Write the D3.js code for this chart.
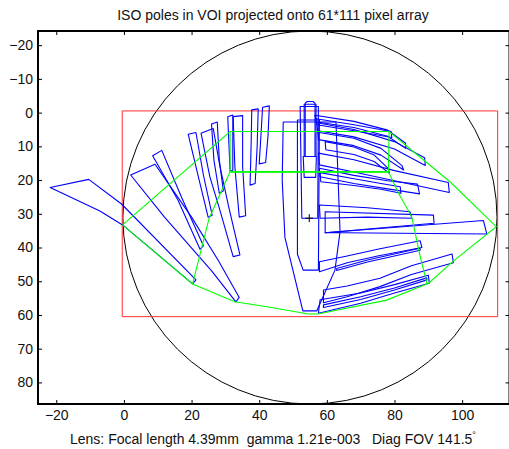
<!DOCTYPE html>
<html>
<head>
<meta charset="utf-8">
<script src="https://cdnjs.cloudflare.com/ajax/libs/d3/7.8.5/d3.min.js"></script>
<style>
  body { margin: 0; background: #fff; }
  svg { display: block; font-family: "Liberation Sans", Arial, Helvetica, sans-serif; }
  .axis text { font-size: 14px; fill: #111; }
  .axis line { stroke: #000; stroke-width: 1; }
  .axis .domain { display: none; }
</style>
</head>
<body>
<div id="vis"></div>
<script>
// tick values
const xTicks = [-20, 0, 20, 40, 60, 80, 100];
const yTicks = [-20, -10, 0, 10, 20, 30, 40, 50, 60, 70, 80];

// pixel array frame (61*111) and lens image circle
const arrayFrame = [[-0.5, -0.5], [110.5, -0.5], [110.5, 60.5], [-0.5, 60.5]];
const circleCenter = [55, 31.1];
const circleRadius = 55.3;
const opticalCenter = [54.8, 31.3];

// green grid of the VOI
const gridOuter = [[-0.4, 33.3], [31.4, 5.6], [78.4, 5.6], [96.4, 20.5], [110.1, 33.8], [97.2, 44.2],
  [90.1, 50.6], [77.7, 55.6], [57.3, 59.7], [54.5, 59.7], [43.2, 57.7], [32.8, 56.1], [20.3, 50.8], [-0.4, 33.3]];
const gridInnerLeft = [[31.4, 5.6], [31.4, 17.5], [25.2, 31.3], [20.3, 50.8]];
const gridMid = [[31.4, 17.5], [78.2, 17.5]];
const gridMid2 = [[31.6, 17.7], [78.2, 17.7]];
const gridInnerRight = [[78.4, 5.6], [78.2, 17.5], [81.2, 23.9], [85.1, 30.9], [87.6, 42.7], [89.6, 50.6]];

// projected poles (blue outlines)
const polesLeft = [
  [[-21.8, 22.2], [-10.4, 19.8], [-0.7, 27.1], [21.3, 49.6], [20.3, 50.8], [-0.4, 33.3], [-7.1, 29.2]],
  [[2.0, 18.5], [9.2, 15.3], [20, 31], [28, 44], [34.1, 54.8], [33.1, 56.1], [26, 47], [12, 31]],
  [[8.5, 12.8], [11.2, 11.2], [17, 25], [23.5, 39.5], [22.5, 40.5], [16, 26]],
  [[19.0, 6.4], [21.3, 5.9], [23.5, 18.5], [26.1, 30.4], [24.9, 31.0], [22, 19]],
  [[22.8, 6.1], [26.4, 4.7], [28.4, 16], [31, 28], [34.3, 42.2], [32.3, 42.7], [28.4, 29], [25.4, 19]],
  [[25.9, 3.4], [27.6, 2.8], [28.2, 14], [29.4, 23.2], [28.2, 23.9], [26.6, 14]],
  [[30.7, 1.2], [32.2, 0.7], [32.2, 17.0], [31.4, 17.5]],
  [[32.3, 1.2], [35.1, 0.9], [35.1, 16.0], [36.0, 30.6], [34.1, 31.0], [32.8, 16.0]],
  [[37.8, -0.8], [39.7, -1.1], [39.4, 10], [38.8, 21.0], [37.3, 21.5], [37.6, 10]],
  [[41.0, -1.6], [43.0, -2.0], [42.6, 7], [41.9, 14.8], [40.0, 15.2], [40.5, 7]]
];
const polesCenter = [
  [[47.1, 2.8], [62.7, 2.8], [63.9, 35.3], [62.4, 46.7], [57.0, 58.8], [52.9, 58.8], [47.6, 37], [46.8, 20]],
  [[51.3, 2.2], [57.8, 2.2], [57.5, 46.7], [53.0, 46.7], [51.3, 42]],
  [[52.1, -1.8], [57.5, -1.8], [57.3, 31.3], [52.6, 31.3]],
  [[53.3, -2.5], [56.8, -2.5], [56.8, 13.0], [53.3, 13.0]],
  [[53.6, -2.8], [54.2, -3.3], [55.9, -3.3], [56.5, -2.8], [56.5, 13.0], [53.6, 13.0]],
  [[53.0, 13.0], [56.9, 13.0], [56.7, 19.2], [53.3, 19.2]]
];
const polesRightUpper = [
  [[56.5, 0.8], [68, 2.6], [78, 5.2], [83.3, 9.1], [83.3, 10.6], [78, 7.0], [68, 4.4], [57, 2.8]],
  [[56.8, 1.8], [68, 3.6], [79, 5.6], [79.2, 7.4], [68, 5.4], [57, 3.6]],
  [[57, 3.0], [68, 5.0], [80, 8.6], [88.9, 13.4], [89.1, 15.7], [80, 10.8], [68, 7.2], [57.3, 5.4]],
  [[57.3, 5.8], [68, 7.6], [76, 10.6], [82.2, 15.7], [82.7, 17.0], [76, 12.6], [68, 9.8], [57.5, 8.0]],
  [[59.5, 8.6], [68, 10.2], [74, 12.6], [78.2, 16.6], [78.5, 18.0], [74, 14.5], [68, 12.4], [59.7, 11.0]],
  [[57.5, 12.0], [68, 14.0], [80, 17.2], [95.9, 20.7], [96.2, 23.7], [80, 20.2], [68, 17.6], [57.8, 15.5]],
  [[57.8, 16.5], [68, 18.6], [78, 20.2], [86.8, 21.2], [87.4, 24.1], [78, 22.6], [68, 21.0], [58, 19.0]],
  [[58, 17.8], [68, 19.6], [76, 21.0], [81.7, 22.0], [81.9, 23.9], [76, 22.7], [68, 21.6], [58.2, 20.5]]
];
const polesRightLower = [
  [[57.8, 27.4], [72, 28.2], [84.6, 29.4], [85.1, 31.3], [72, 31.0], [58.0, 31.3]],
  [[59.5, 29.4], [91.5, 30.4], [91.7, 32.8], [59.5, 35.6]],
  [[59.5, 35.6], [106.3, 32.0], [107.3, 36.0], [64.4, 35.6]],
  [[57.8, 44.2], [66, 42.5], [75, 40.5], [87.6, 38.0], [88.1, 40.0], [75, 42.5], [66, 44.5], [57.8, 47.2]],
  [[62.9, 46.2], [72, 43.7], [87.5, 40.2], [87.6, 40.8], [72, 44.3], [62.9, 46.8]],
  [[59.0, 52.6], [66, 51.4], [75.7, 49.1], [85, 45.4], [97.0, 41.9], [97.4, 44.5], [85, 48.0], [75.7, 51.6], [66, 54.6], [59.0, 56.4]],
  [[58.0, 55.5], [70, 53.5], [80, 51.0], [90.0, 48.2], [90.3, 50.6], [80, 53.5], [70, 56.5], [57.5, 59.5]],
  [[59.0, 57.0], [70, 54.6], [80, 52.0], [89.5, 49.0], [89.6, 49.6], [80, 52.6], [70, 55.4], [59.0, 57.8]]
];

const titleText = "ISO poles in VOI projected onto 61*111 pixel array";
const xLabelText = "Lens: Focal length 4.39mm  gamma 1.21e-003   Diag FOV 141.5";

const width = 509, height = 449;
const plot = { left: 38, right: 509.5, top: 31, bottom: 404 };

const svg = d3.select("#vis").append("svg")
  .attr("width", width).attr("height", height);

// scales (equal aspect)
const x = d3.scaleLinear().domain([-25.4, 114]).range([plot.left, plot.right]);
const y = d3.scaleLinear().domain([-24.2, 86.4]).range([plot.top, plot.bottom]);

const line = d3.line().x(d => x(d[0])).y(d => y(d[1]));

// image circle
svg.append("ellipse")
  .attr("cx", x(circleCenter[0])).attr("cy", y(circleCenter[1]))
  .attr("rx", x(circleCenter[0] + circleRadius) - x(circleCenter[0]))
  .attr("ry", y(circleCenter[1] + circleRadius) - y(circleCenter[1]))
  .attr("fill", "none").attr("stroke", "#000").attr("stroke-width", 1);

// pixel array frame
svg.append("path")
  .attr("d", line(arrayFrame) + "Z")
  .attr("fill", "none").attr("stroke", "#ff3030").attr("stroke-width", 1);

// poles
const allPoles = [].concat(polesLeft, polesCenter, polesRightUpper, polesRightLower);
svg.append("g").selectAll("path").data(allPoles).join("path")
  .attr("d", d => line(d) + "Z")
  .attr("fill", "none").attr("stroke", "#0000ff").attr("stroke-width", 1.1)
  .attr("stroke-linejoin", "round");

// VOI grid
svg.append("g").selectAll("path")
  .data([gridOuter, gridInnerLeft, gridMid, gridMid2, gridInnerRight]).join("path")
  .attr("d", d => line(d))
  .attr("fill", "none").attr("stroke", "#00ff00").attr("stroke-width", 1.1);

// optical center marker
const oc = [x(opticalCenter[0]), y(opticalCenter[1])];
svg.append("path")
  .attr("d", `M${oc[0] - 4},${oc[1]}H${oc[0] + 4}M${oc[0]},${oc[1] - 4}V${oc[1] + 4}`)
  .attr("stroke", "#000").attr("stroke-width", 1);

// axes, ticks pointing inward like matlab
svg.append("g").attr("class", "axis")
  .attr("transform", `translate(0,${plot.bottom})`)
  .call(d3.axisBottom(x).tickValues(xTicks).tickSize(-4).tickPadding(6));
svg.append("g").attr("class", "axis")
  .attr("transform", `translate(0,${plot.top})`)
  .call(d3.axisTop(x).tickValues(xTicks).tickSize(-4).tickFormat(""));
svg.append("g").attr("class", "axis")
  .attr("transform", `translate(${plot.left},0)`)
  .call(d3.axisLeft(y).tickValues(yTicks).tickSize(-4).tickPadding(5));
svg.append("g").attr("class", "axis")
  .attr("transform", `translate(${plot.right},0)`)
  .call(d3.axisRight(y).tickValues(yTicks).tickSize(-4).tickFormat(""));

// box
svg.append("rect")
  .attr("x", plot.left).attr("y", plot.top)
  .attr("width", plot.right - plot.left).attr("height", plot.bottom - plot.top)
  .attr("fill", "none").attr("stroke", "#000").attr("stroke-width", 2);

// title and label
svg.append("text")
  .attr("x", 273).attr("y", 20)
  .attr("text-anchor", "middle").attr("font-size", 14).attr("fill", "#111")
  .text(titleText);

const xl = svg.append("text")
  .attr("x", 273).attr("y", 444)
  .attr("text-anchor", "middle").attr("font-size", 14).attr("fill", "#111")
  .style("white-space", "pre");
xl.append("tspan").text(xLabelText);
xl.append("tspan").attr("dy", -6).attr("font-size", 9).text("°");
</script>
</body>
</html>
